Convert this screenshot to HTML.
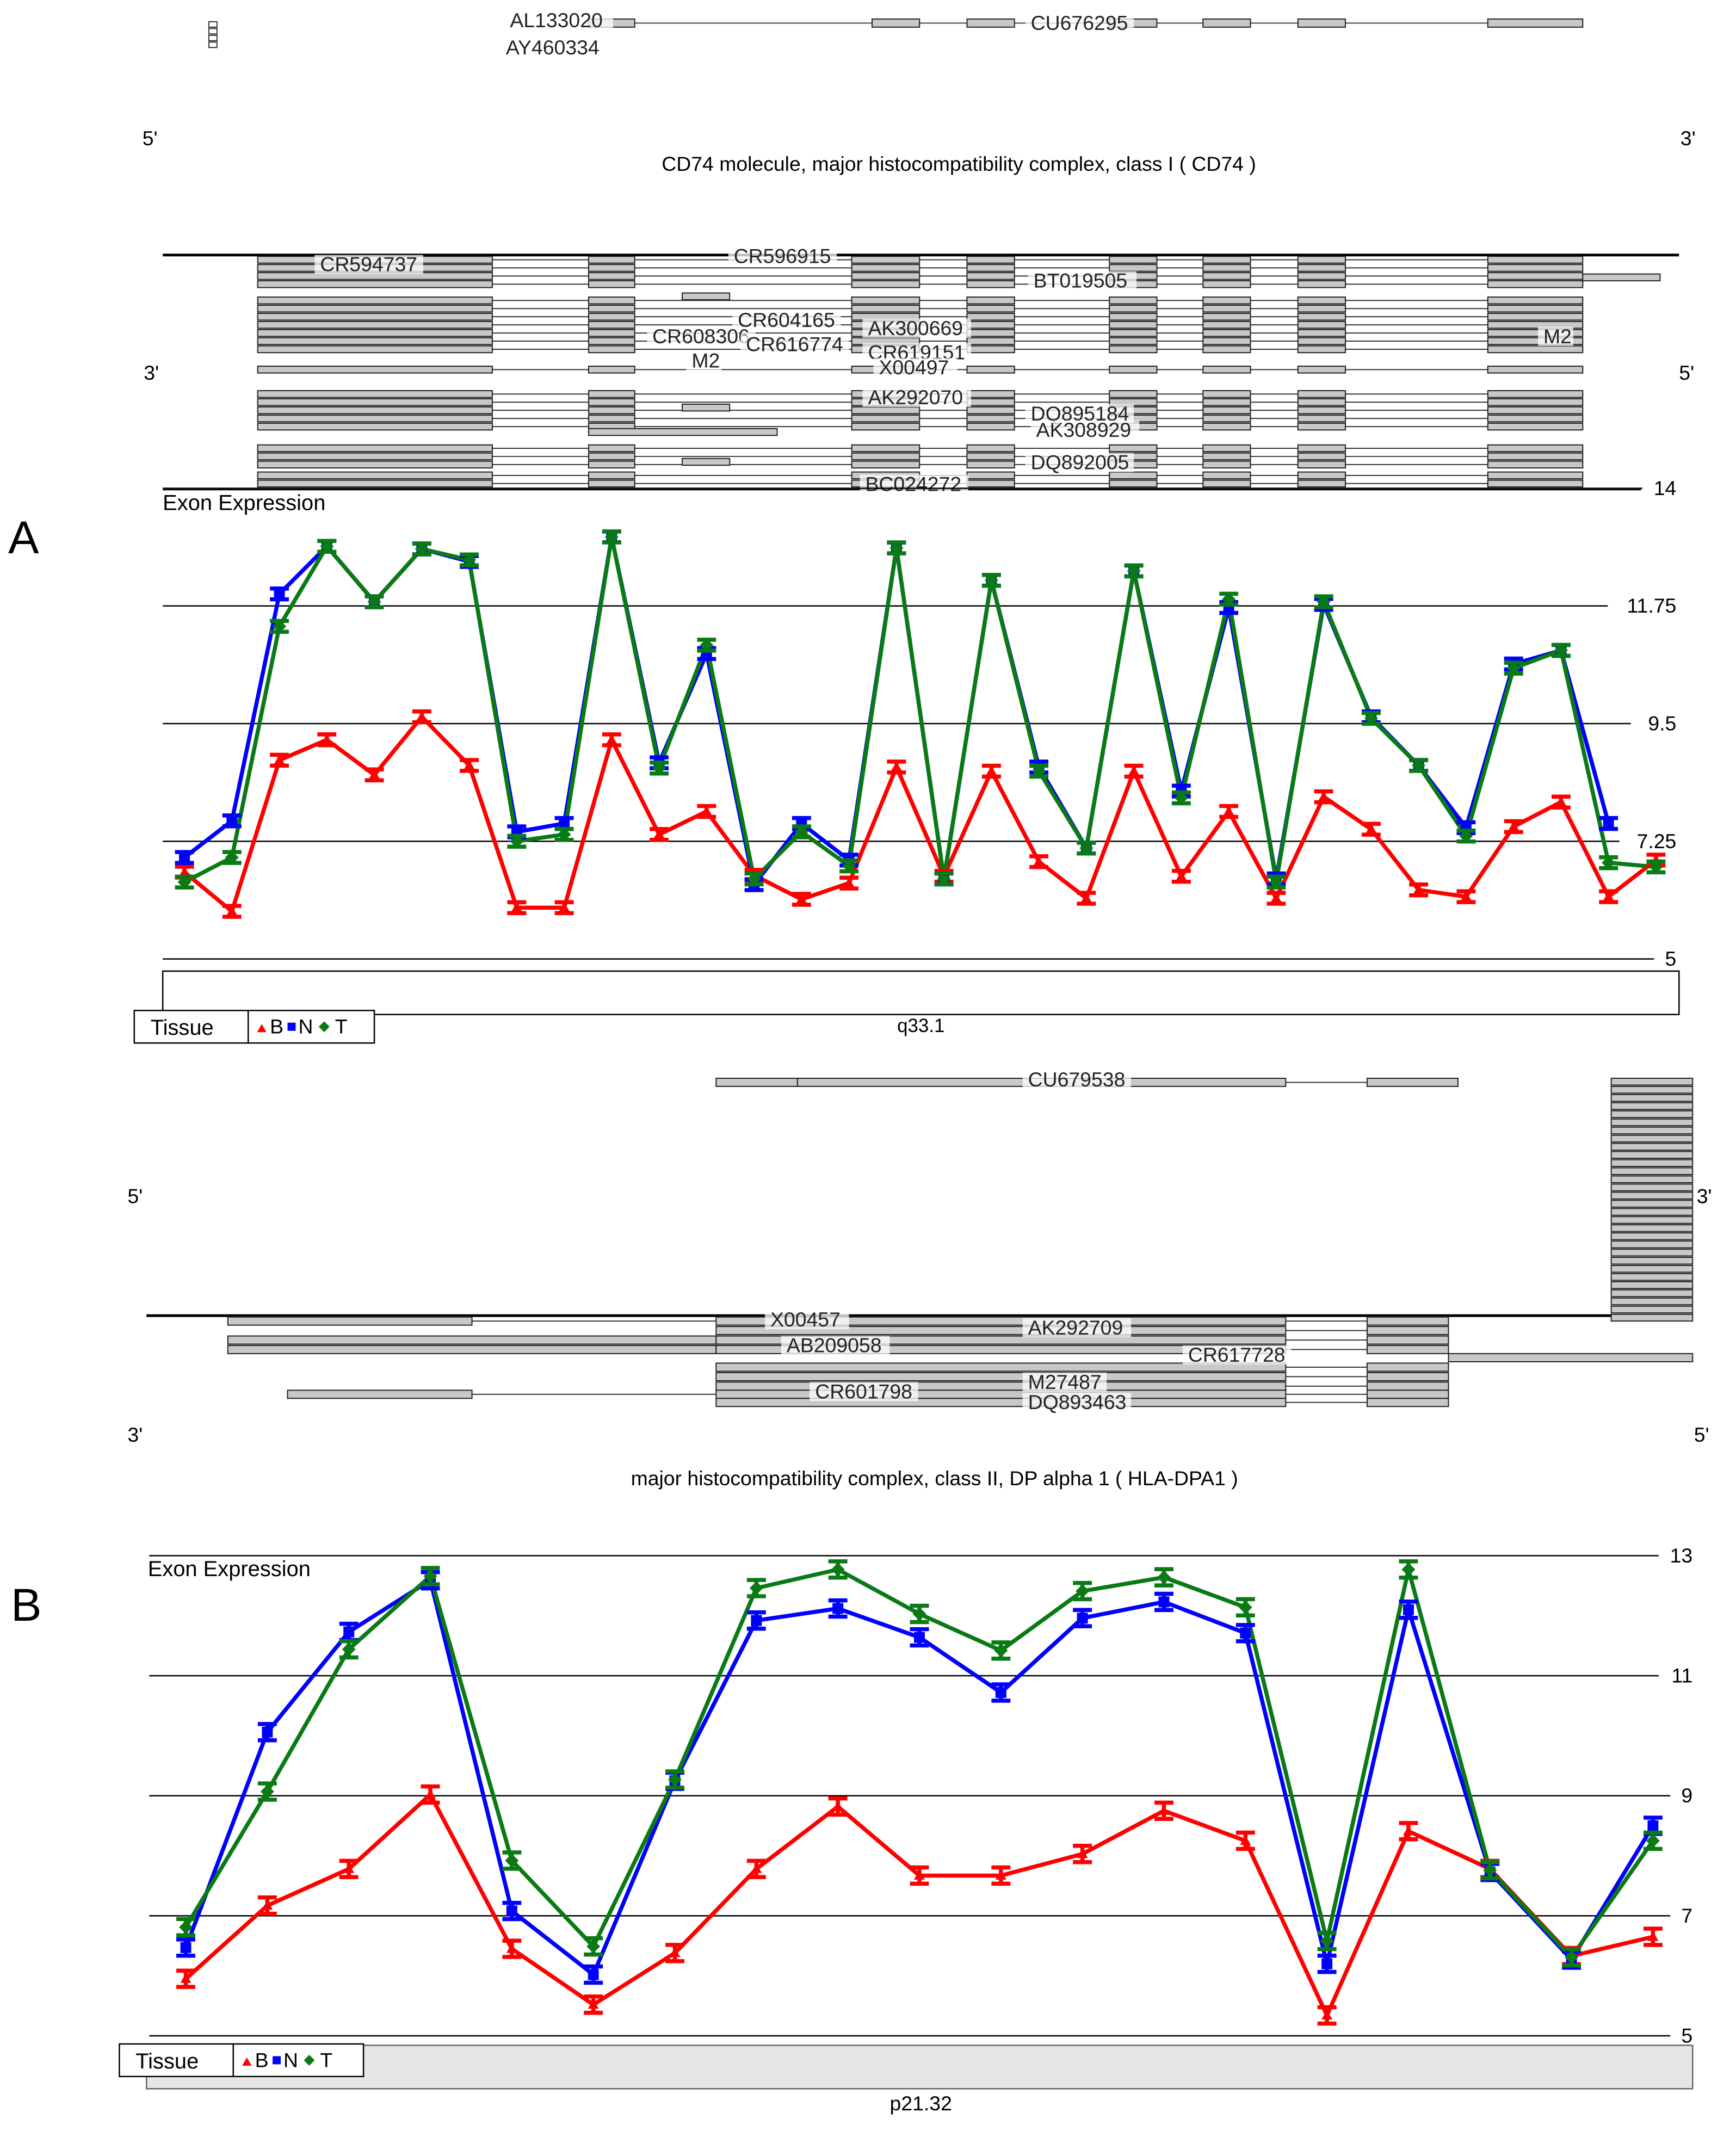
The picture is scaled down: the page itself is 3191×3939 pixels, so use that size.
<!DOCTYPE html>
<html><head><meta charset="utf-8"><style>
html,body{margin:0;padding:0;background:#fff}
svg{display:block}
text{font-family:"Liberation Sans",sans-serif}
</style></head><body>
<svg id="fig" xmlns="http://www.w3.org/2000/svg" width="3191" height="3939" viewBox="0 0 1280 1580">
<rect width="1280" height="1580" fill="#fff"/>
<g id="genes"></g>
<g id="chartA"></g>
<g id="chartB"></g>
<g id="labels">
<text x="6" y="408" font-size="34" font-family="Liberation Serif">A</text>
<text x="8" y="1195" font-size="34" font-family="Liberation Serif">B</text>
<text x="707" y="126" font-size="15" text-anchor="middle">CD74 molecule, major histocompatibility complex, class I ( CD74 )</text>
<text x="689" y="1095" font-size="15" text-anchor="middle">major histocompatibility complex, class II, DP alpha 1  ( HLA-DPA1 )</text>
<text x="105" y="107" font-size="15">5'</text>
<text x="1239" y="107" font-size="15">3'</text>
<text x="106" y="280" font-size="15">3'</text>
<text x="1238" y="280" font-size="15">5'</text>
<text x="94" y="887" font-size="15">5'</text>
<text x="1251" y="887" font-size="15">3'</text>
<text x="94" y="1063" font-size="15">3'</text>
<text x="1249" y="1063" font-size="15">5'</text>
<text x="679" y="761" font-size="14" text-anchor="middle">q33.1</text>
<text x="679" y="1556" font-size="15" text-anchor="middle">p21.32</text>
</g>
<script>
// ---------- Chart A data (CD74) ----------
var aTicks = [5, 7.25, 9.5, 11.75, 14];
var aTickLabels = ["5", "7.25", "9.5", "11.75", "14"];
var aB = [6.66,5.91,8.80,9.19,8.52,9.63,8.70,5.98,5.98,9.19,7.38,7.82,6.60,6.14,6.45,8.67,6.58,8.59,6.86,6.16,8.59,6.58,7.82,6.16,8.10,7.48,6.32,6.19,7.53,8.00,6.19,6.89];
var aN = [6.94,7.64,11.98,12.89,11.83,12.84,12.60,7.43,7.59,13.07,8.75,10.84,6.42,7.59,6.89,12.86,6.53,12.24,8.67,7.12,12.42,8.21,11.72,6.53,11.78,9.63,8.70,7.51,10.64,10.90,7.59];
var aT = [6.47,6.94,11.36,12.89,11.83,12.84,12.63,7.25,7.38,13.07,8.65,11.00,6.53,7.43,6.78,12.86,6.53,12.24,8.59,7.12,12.42,8.08,11.88,6.47,11.83,9.60,8.70,7.35,10.56,10.90,6.84,6.76];
// ---------- Chart B data (HLA-DPA1) ----------
var bTicks = [5, 7, 9, 11, 13];
var bTickLabels = ["5", "7", "9", "11", "13"];
var bB = [5.95,7.17,7.78,9.02,6.45,5.52,6.38,7.78,8.82,7.67,7.67,8.03,8.75,8.25,5.34,8.41,7.78,6.33,6.65];
var bN = [6.47,10.06,11.73,12.59,7.08,6.02,9.25,11.92,12.12,11.64,10.72,11.96,12.23,11.71,6.20,12.10,7.73,6.27,8.50];
var bT = [6.81,9.07,11.44,12.66,7.92,6.49,9.27,12.46,12.77,12.03,11.42,12.41,12.64,12.14,6.58,12.77,7.76,6.31,8.25];

var NS = "http://www.w3.org/2000/svg";
function mk(parent, tag, attrs, name) {
  var e = document.createElementNS(NS, tag);
  for (var k in attrs) e.setAttribute(k, attrs[k]);
  
  
  parent.appendChild(e);
  return e;
}

function drawChart(g, cfg, ticks, tickLabels, series) {
  function y(v) { return cfg.y0 - (v - cfg.vmin) / (cfg.vmax - cfg.vmin) * (cfg.y0 - cfg.y1); }
  function x(i) { return cfg.x0 + i * cfg.dx; }
  ticks.forEach(function (t, i) {
    var end = cfg.lx - tickLabels[i].length * 8.5 - 8;
    mk(g, 'line', {x1: cfg.gx0, x2: end, y1: y(t), y2: y(t), stroke: '#000', 'stroke-width': 1}, 'gridline');
    var tx = mk(g, 'text', {x: cfg.lx, y: y(t) + 5, 'font-size': 15, 'text-anchor': 'end'}, 'y-tick-label');
    tx.textContent = tickLabels[i];
  });
  var lab = mk(g, 'text', {x: cfg.tx, y: cfg.ty, 'font-size': 16}, 'y-axis-title');
  lab.textContent = 'Exon Expression';
  series.forEach(function (s) {
    var pts = s.vals.map(function (v, i) { return x(i) + ',' + y(v); }).join(' ');
    mk(g, 'polyline', {points: pts, fill: 'none', stroke: s.color, 'stroke-width': 3, 'stroke-linejoin': 'round'}, s.name + '-line');
  });
  series.forEach(function (s) {
    s.vals.forEach(function (v, i) {
      var cx = x(i), cy = y(v), e = cfg.err;
      mk(g, 'path', {d: 'M' + (cx - 7) + ' ' + (cy - e) + 'h14M' + (cx - 7) + ' ' + (cy + e) + 'h14M' + cx + ' ' + (cy - e) + 'v' + (2 * e), stroke: s.color, 'stroke-width': 3, fill: 'none'}, s.name + '-error-bar');
      if (s.shape === 'tri') mk(g, 'path', {d: 'M' + cx + ' ' + (cy - 4) + 'l4 7h-8z', fill: s.color}, s.name + '-point');
      else if (s.shape === 'sq') mk(g, 'rect', {x: cx - 4, y: cy - 4, width: 8, height: 8, fill: s.color}, s.name + '-point');
      else mk(g, 'path', {d: 'M' + cx + ' ' + (cy - 5) + 'l5 5l-5 5l-5 -5z', fill: s.color}, s.name + '-point');
    });
  });
}

drawChart(document.getElementById('chartA'),
  {x0: 136, dx: 35, y0: 707, y1: 360, vmin: 5, vmax: 14, gx0: 120, lx: 1236, tx: 120, ty: 376, err: 4},
  aTicks, aTickLabels,
  [{vals: aB, color: '#f00', shape: 'tri', name: 'tissue-b'},
   {vals: aN, color: '#00f', shape: 'sq', name: 'tissue-n'},
   {vals: aT, color: '#0a7a14', shape: 'dia', name: 'tissue-t'}]);
drawChart(document.getElementById('chartB'),
  {x0: 137, dx: 60.1, y0: 1501, y1: 1147, vmin: 5, vmax: 13, gx0: 110, lx: 1248, tx: 109, ty: 1162, err: 6},
  bTicks, bTickLabels,
  [{vals: bB, color: '#f00', shape: 'tri', name: 'tissue-b'},
   {vals: bN, color: '#00f', shape: 'sq', name: 'tissue-n'},
   {vals: bT, color: '#0a7a14', shape: 'dia', name: 'tissue-t'}]);

// ---------- gene track decoration ----------
var G = document.getElementById('genes');
function row(y, xs, x1, x2, h) {
  mk(G, 'line', {x1: x1, x2: x2, y1: y + h / 2, y2: y + h / 2, stroke: '#333', 'stroke-width': 0.8}, 'intron-line');
  xs.forEach(function (c) {
    mk(G, 'rect', {x: c[0], y: y, width: c[1] - c[0], height: h, fill: '#c8c8c8', stroke: '#222', 'stroke-width': 0.8}, 'exon-box');
  });
}
function label(x, y, t) {
  mk(G, 'rect', {x: x - 4, y: y - 12, width: t.length * 9 + 8, height: 14, fill: '#fff', opacity: 0.75}, 'transcript-label-bg');
  var e = mk(G, 'text', {x: x, y: y, 'font-size': 15, fill: '#222'}, 'transcript-label');
  e.textContent = t;
}
row(14, [[434, 468], [643, 678], [713, 748], [818, 853], [887, 922], [957, 992], [1097, 1167]], 434, 1167, 6);
for (var i = 0; i < 4; i++) mk(G, 'rect', {x: 154, y: 16 + i * 5, width: 6, height: 4, fill: '#fff', stroke: '#333', 'stroke-width': 0.8}, 'exon-box');
label(376, 20, 'AL133020'); label(760, 22, 'CU676295'); label(373, 40, 'AY460334');
mk(G, 'line', {x1: 120, x2: 1238, y1: 188, y2: 188, stroke: '#000', 'stroke-width': 2}, 'strand-line');
mk(G, 'line', {x1: 120, x2: 1210, y1: 361, y2: 361, stroke: '#000', 'stroke-width': 1}, 'strand-line');
var colsA = [[190, 363], [434, 468], [628, 678], [713, 748], [818, 853], [887, 922], [957, 992], [1097, 1167]];
var rowsA = [189, 195, 201, 207, 219, 225, 231, 237, 243, 249, 255, 270, 288, 294, 300, 306, 312, 328, 334, 340, 348, 354];
rowsA.forEach(function (ry) { row(ry, colsA, 190, 1167, 5); });
row(216, [[503, 538]], 503, 538, 5); row(298, [[503, 538]], 503, 538, 5); row(338, [[503, 538]], 503, 538, 5);
row(202, [[1167, 1224]], 1167, 1224, 5); row(316, [[434, 573]], 434, 573, 5);
label(236, 200, 'CR594737'); label(541, 194, 'CR596915'); label(762, 212, 'BT019505'); label(544, 241, 'CR604165');
label(640, 247, 'AK300669'); label(481, 253, 'CR608306'); label(550, 259, 'CR616774'); label(640, 265, 'CR619151');
label(648, 276, 'X00497'); label(640, 298, 'AK292070'); label(760, 310, 'DQ895184'); label(764, 322, 'AK308929');
label(760, 346, 'DQ892005'); label(638, 362, 'BC024272'); label(510, 271, 'M2'); label(1138, 253, 'M2');
mk(G, 'path', {d: 'M120 745V716H1238V748H120', fill: 'none', stroke: '#000', 'stroke-width': 1}, 'chromosome-box');
row(795, [[528, 588], [588, 948], [1008, 1075]], 528, 1075, 6);
label(758, 801, 'CU679538');
mk(G, 'line', {x1: 108, x2: 1248, y1: 970, y2: 970, stroke: '#000', 'stroke-width': 2}, 'strand-line');
for (var k = 0; k < 30; k++) row(795 + k * 6, [[1188, 1248]], 1188, 1248, 5);
row(971, [[168, 348], [528, 948], [1008, 1068]], 168, 1068, 6);
row(978, [[528, 948], [1008, 1068]], 528, 1068, 6);
row(985, [[168, 528], [528, 948], [1008, 1068]], 168, 1068, 6);
row(992, [[168, 528], [528, 948], [1008, 1068]], 168, 1068, 6);
row(998, [[1068, 1248]], 1068, 1248, 6);
row(1005, [[528, 948], [1008, 1068]], 528, 1068, 6);
row(1012, [[528, 948], [1008, 1068]], 528, 1068, 6);
row(1019, [[528, 948], [1008, 1068]], 528, 1068, 6);
row(1025, [[212, 348], [528, 948], [1008, 1068]], 212, 1068, 6);
row(1031, [[528, 948], [1008, 1068]], 528, 1068, 6);
label(568, 978, 'X00457'); label(758, 984, 'AK292709'); label(580, 997, 'AB209058'); label(876, 1004, 'CR617728');
label(758, 1024, 'M27487'); label(601, 1031, 'CR601798'); label(758, 1039, 'DQ893463');
mk(G, 'rect', {x: 108, y: 1508, width: 1140, height: 32, fill: '#e6e6e6', stroke: '#666', 'stroke-width': 1}, 'chromosome-bar');
function legend(x, y, w) {
  mk(G, 'rect', {x: x, y: y, width: w, height: 24, fill: '#fff', stroke: '#000', 'stroke-width': 1}, 'legend-box');
  mk(G, 'line', {x1: x + 84, x2: x + 84, y1: y, y2: y + 24, stroke: '#000'}, 'legend-divider');
  var t = mk(G, 'text', {x: x + 12, y: y + 18, 'font-size': 16}, 'legend-title'); t.textContent = 'Tissue';
  mk(G, 'path', {d: 'M' + (x + 94) + ' ' + (y + 10) + 'l3.5 6h-7z', fill: '#f00'}, 'legend-marker-b');
  t = mk(G, 'text', {x: x + 100, y: y + 17, 'font-size': 15}, 'legend-label-b'); t.textContent = 'B';
  mk(G, 'rect', {x: x + 113, y: y + 9, width: 6, height: 6, fill: '#00f'}, 'legend-marker-n');
  t = mk(G, 'text', {x: x + 121, y: y + 17, 'font-size': 15}, 'legend-label-n'); t.textContent = 'N';
  mk(G, 'path', {d: 'M' + (x + 140) + ' ' + (y + 8) + 'l4 4l-4 4l-4 -4z', fill: '#0a7a14'}, 'legend-marker-t');
  t = mk(G, 'text', {x: x + 148, y: y + 17, 'font-size': 15}, 'legend-label-t'); t.textContent = 'T';
}
legend(99, 745, 177);
legend(88, 1507, 180);
</script>
</svg>
</body></html>
